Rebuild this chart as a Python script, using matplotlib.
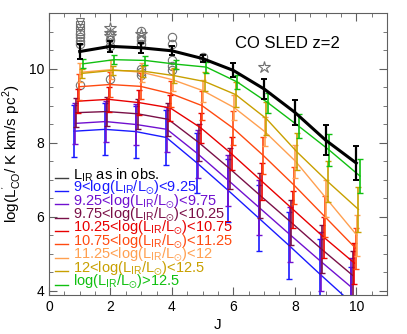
import numpy as np
import matplotlib
matplotlib.use("Agg")
import matplotlib.pyplot as plt

plt.rcParams['font.family'] = ['Liberation Sans', 'DejaVu Sans']
plt.rcParams['mathtext.fontset'] = 'custom'
plt.rcParams['mathtext.rm'] = 'Liberation Sans'
plt.rcParams['mathtext.it'] = 'Liberation Sans'
plt.rcParams['mathtext.default'] = 'regular'

# rotational transitions
J = np.arange(1, 11)

# model SLEDs, log(L'CO)
black_vals = [10.46, 10.60, 10.56, 10.48, 10.27, 9.95, 9.45, 8.82, 8.07, 7.45]
black_err = [0.20, 0.14, 0.13, 0.12, 0.10, 0.19, 0.27, 0.34, 0.40, 0.45]

blue_vals = [8.31, 8.36, 8.30, 8.14, 7.45, 6.72, 5.97, 5.22, 4.45, 3.70]
purple_vals = [8.52, 8.57, 8.49, 8.36, 7.70, 6.98, 6.25, 5.52, 4.80, 4.10]
maroon_vals = [8.81, 8.84, 8.78, 8.63, 8.00, 7.30, 6.57, 5.85, 5.12, 4.42]
red_vals = [9.12, 9.17, 9.08, 8.94, 8.40, 7.70, 6.95, 6.20, 5.45, 4.75]
orange_vals = [9.51, 9.57, 9.52, 9.32, 9.00, 8.40, 7.65, 6.85, 6.00, 5.15]
lorange_vals = [9.90, 9.97, 9.90, 9.70, 9.40, 8.95, 8.30, 7.50, 6.50, 5.50]
gold_vals = [9.87, 9.95, 9.93, 9.81, 9.65, 9.30, 8.65, 7.75, 6.95, 6.20]
green_vals = [10.13, 10.24, 10.22, 10.12, 10.04, 9.64, 9.08, 8.45, 7.80, 7.10]

blue_err = [0.70, 0.70, 0.70, 0.75, 0.80, 0.85, 0.90, 0.90, 0.95, 0.95]
purple_err = [0.55, 0.55, 0.55, 0.60, 0.65, 0.70, 0.75, 0.75, 0.80, 0.80]
maroon_err = [0.40, 0.40, 0.40, 0.45, 0.50, 0.55, 0.60, 0.60, 0.65, 0.65]
red_err = [0.33, 0.33, 0.33, 0.35, 0.40, 0.45, 0.50, 0.50, 0.55, 0.55]
orange_err = [0.35, 0.35, 0.35, 0.35, 0.40, 0.45, 0.50, 0.50, 0.55, 0.55]
lorange_err = [0.25, 0.25, 0.25, 0.30, 0.30, 0.35, 0.40, 0.45, 0.50, 0.55]
gold_err = [0.12, 0.12, 0.15, 0.20, 0.25, 0.35, 0.45, 0.50, 0.55, 0.60]
green_err = [0.12, 0.12, 0.12, 0.12, 0.15, 0.20, 0.27, 0.33, 0.43, 0.46]

offsets = [-0.18, -0.16, -0.12, -0.06, -0.02, 0.02, 0.07, 0.12]
colors = ['#1a1aff', '#7010d0', '#7a1048', '#e80000', '#ff4a10',
          '#ffa050', '#c8a000', '#10c010']
labels = [r'9<log(L$_{IR}$/L$_{\odot}$)<9.25',
          r'9.25<log(L$_{IR}$/L$_{\odot}$)<9.75',
          r'9.75<log(L$_{IR}$/L$_{\odot}$)<10.25',
          r'10.25<log(L$_{IR}$/L$_{\odot}$)<10.75',
          r'10.75<log(L$_{IR}$/L$_{\odot}$)<11.25',
          r'11.25<log(L$_{IR}$/L$_{\odot}$)<12',
          r'12<log(L$_{IR}$/L$_{\odot}$)<12.5',
          r'log(L$_{IR}$/L$_{\odot}$)>12.5']
series = [blue_vals, purple_vals, maroon_vals, red_vals, orange_vals,
          lorange_vals, gold_vals, green_vals]
errors = [blue_err, purple_err, maroon_err, red_err, orange_err,
          lorange_err, gold_err, green_err]

# observed galaxies (gray open symbols)
obs_J = [1, 1, 1, 1, 1, 1, 1, 1, 1,
         2, 2, 2, 2, 2, 2,
         3, 3, 3, 3, 3, 3, 3, 3,
         4, 4, 4, 4, 4,
         5, 7]
obs_val = [11.27, 11.18, 11.10, 11.02, 10.93, 10.84, 10.75, 10.66, 9.57,
           11.10, 10.97, 10.88, 10.78, 10.60, 9.72,
           11.02, 10.93, 10.84, 10.76, 10.66, 9.98, 9.90, 9.82,
           10.84, 10.66, 10.22, 10.08, 9.95,
           10.30, 10.03]
obs_mark = ['v', 's', 'v', 's', 'o', 'o', 'o', 'o', 'o',
            '*', '*', '*', 'o', 'o', 'o',
            'o', '*', 'o', 'o', 'o', 'o', 'o', 'o',
            'o', 'o', 'o', 'o', 'o',
            'o', '*']

fig = plt.figure(figsize=(4.07, 3.34), dpi=100)
ax = fig.add_axes([0.1204, 0.1168, 0.8305, 0.8443])

for j, v, m in zip(obs_J, obs_val, obs_mark):
    ms = 9 if m == '*' else 6
    ax.plot(j, v, marker=m, ms=ms, mfc='none', mec='#707070', mew=0.8,
            ls='none', zorder=2)

for vals, err, off, c in zip(series, errors, offsets, colors):
    x = J + off
    ax.plot(x, vals, color=c, lw=1.0, zorder=3)
    ax.errorbar(x, vals, yerr=err, fmt='none', ecolor=c, elinewidth=1.2,
                capsize=2, capthick=1.0, zorder=3)

ax.plot(J, black_vals, color='black', lw=2.2, zorder=5)
ax.errorbar(J, black_vals, yerr=black_err, fmt='none', ecolor='black',
            elinewidth=1.6, capsize=2.5, capthick=1.4, zorder=5)

ax.text(7.76, 10.67, 'CO SLED z=2', fontsize=12, ha='center', va='center')

# legend drawn by hand so the rows sit tight
leg_labels = [r'L$_{IR}$ as in obs.'] + labels
leg_colors = ['#404040'] + colors
text_colors = ['black'] + colors
row_y = np.linspace(0.426, 0.047, len(leg_labels))
for lab, lc, tc, yy in zip(leg_labels, leg_colors, text_colors, row_y):
    ax.plot([0.018, 0.056], [yy - 0.01, yy - 0.01], color=lc, lw=1.0,
            transform=ax.transAxes)
    ax.text(0.07, yy, lab, color=tc, fontsize=10.5, ha='left', va='center',
            transform=ax.transAxes)

ax.set_xlim(0, 11)
ax.set_ylim(3.89, 11.5)
ax.set_xticks([0, 2, 4, 6, 8, 10])
ax.set_yticks([4, 6, 8, 10])
ax.set_xticks(np.arange(0, 11.01, 0.5), minor=True)
ax.set_yticks(np.arange(4, 11.51, 0.5), minor=True)
ax.tick_params(which='both', direction='in', top=True, right=True,
               labelsize=10, color='#606060')
ax.tick_params(which='major', length=6)
ax.tick_params(which='minor', length=3)
for sp in ax.spines.values():
    sp.set_color('#606060')

ax.set_xlabel('J', fontsize=11, labelpad=3)
ax.set_ylabel(r"log(L$^{'}_{CO}$/ K km/s pc$^{2}$)", fontsize=11, labelpad=4)

fig.savefig('out.png', dpi=100)
